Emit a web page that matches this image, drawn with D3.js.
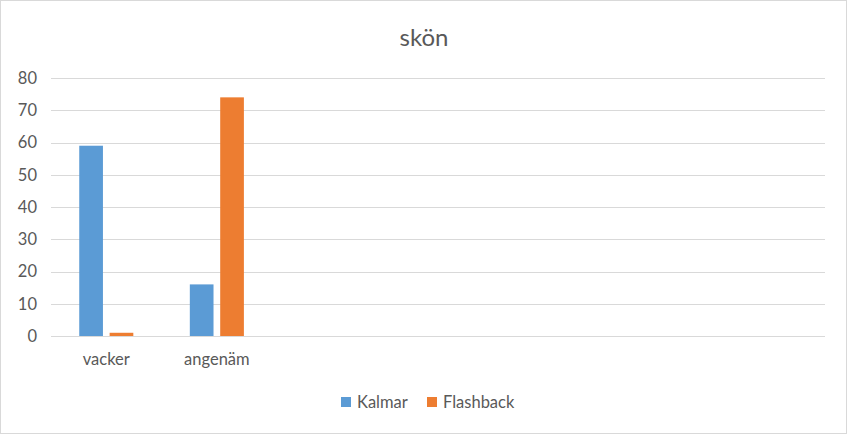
<!DOCTYPE html>
<html>
<head>
<meta charset="utf-8">
<script src="https://cdn.jsdelivr.net/npm/d3@7"></script>
<style>
  body { margin: 0; background: #fff; }
  text { font-family: Lato, "Noto Sans", sans-serif; }
</style>
</head>
<body>
<div class="main-container"></div>
<script>
var categories = ["vacker", "angenäm", "", " ", "  ", "   ", "    "];
var seriesNames = ["Kalmar", "Flashback"];
var kalmar = [59, 16, null, null, null, null, null];
var flashback = [1, 74, null, null, null, null, null];
var yTicks = [0, 10, 20, 30, 40, 50, 60, 70, 80];
var colors = ["#5B9BD5", "#ED7D31"];

var width = 849, height = 434;
var margin = { left: 51, right: 24, top: 78, bottom: 98 };

var svg = d3.select(".main-container")
    .append("svg")
    .attr("width", width)
    .attr("height", height);

svg.append("rect")
    .attr("x", 0.5).attr("y", 0.5)
    .attr("width", width - 3).attr("height", height - 1)
    .attr("fill", "#fff")
    .attr("stroke", "#D9D9D9");

var x = d3.scaleBand()
    .domain(categories)
    .range([margin.left, width - margin.right]);

var inner = d3.scaleBand()
    .domain(seriesNames)
    .range([0, x.bandwidth()])
    .paddingInner(0.22)
    .paddingOuter(0.93);

var y = d3.scaleLinear()
    .domain([0, 80])
    .range([height - margin.bottom, margin.top]);

// gridlines
svg.append("g")
    .selectAll("line")
    .data(yTicks)
    .enter()
    .append("line")
    .attr("x1", margin.left)
    .attr("x2", width - margin.right)
    .attr("y1", function (d) { return Math.round(y(d)) + 0.5; })
    .attr("y2", function (d) { return Math.round(y(d)) + 0.5; })
    .attr("stroke", "#D9D9D9")
    .attr("stroke-width", 1);

// y axis labels
var yAxis = svg.append("g")
    .attr("transform", "translate(" + (margin.left - 14) + ",0)")
    .call(d3.axisLeft(y).tickValues(yTicks).tickSize(0).tickPadding(0));
yAxis.select(".domain").remove();
yAxis.selectAll("text")
    .attr("fill", "#595959")
    .style("font-size", "16.5px");

// x axis labels
var xAxis = svg.append("g")
    .attr("transform", "translate(0," + (height - margin.bottom) + ")")
    .call(d3.axisBottom(x).tickSize(0).tickPadding(17));
xAxis.select(".domain").remove();
xAxis.selectAll("text")
    .attr("fill", "#595959")
    .style("font-size", "16.5px");

// bars
var seriesData = [kalmar, flashback];
seriesData.forEach(function (vals, si) {
    svg.append("g")
        .selectAll("rect")
        .data(vals.map(function (v, i) { return { cat: categories[i], v: v }; })
            .filter(function (d) { return d.v !== null; }))
        .enter()
        .append("rect")
        .attr("x", function (d) { return x(d.cat) + inner(seriesNames[si]); })
        .attr("y", function (d) { return y(d.v); })
        .attr("width", inner.bandwidth())
        .attr("height", function (d) { return y(0) - y(d.v); })
        .attr("fill", colors[si]);
});

// title
svg.append("text")
    .attr("x", 424)
    .attr("y", 46)
    .attr("text-anchor", "middle")
    .attr("fill", "#595959")
    .style("font-size", "24px")
    .text("skön");

// legend
var legendPos = [341, 427];
var legend = svg.append("g")
    .selectAll("g")
    .data(seriesNames)
    .enter()
    .append("g")
    .attr("transform", function (d, i) { return "translate(" + legendPos[i] + ",397)"; });
legend.append("rect")
    .attr("width", 10).attr("height", 10)
    .attr("fill", function (d, i) { return colors[i]; });
legend.append("text")
    .attr("x", 16)
    .attr("y", 11)
    .attr("fill", "#595959")
    .style("font-size", "16.5px")
    .text(function (d) { return d; });
</script>
</body>
</html>
